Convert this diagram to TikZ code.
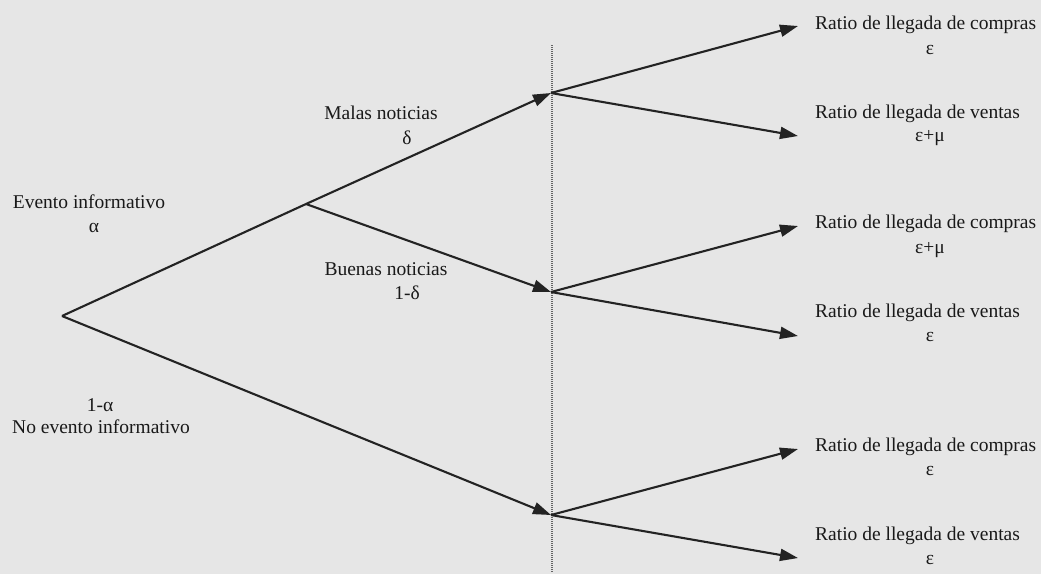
\documentclass[tikz,border=0pt]{standalone}
\usepackage{fontspec}
\setmainfont{Liberation Serif}
\usetikzlibrary{arrows.meta}
\definecolor{bg}{RGB}{230,230,230}
\definecolor{ink}{RGB}{35,35,35}
\definecolor{txt}{RGB}{25,25,25}
\definecolor{dotc}{RGB}{100,100,100}
\begin{document}
\begin{tikzpicture}[x=1pt,y=-1pt,
  branch/.style={draw=ink,line width=2.1pt},
  arr/.style={branch,-{Triangle[length=18pt,width=12pt]}},
  lbl/.style={text=txt,inner sep=0pt,font=\fontsize{19.5}{22}\selectfont},
  ratio/.style={lbl,anchor=west}]
\fill[bg] (0,0) rectangle (1041,574);
\useasboundingbox (0,0) rectangle (1041,574);
% dotted time line
\coordinate (dtop) at (552,45);
\coordinate (dbot) at (552,573);
\draw[dotc,line width=1.5pt,dash pattern=on 1pt off 1pt] (dtop) -- (dbot);
% tree points
\coordinate (O) at (62,316);
\coordinate (B) at (306,204);
\coordinate (M) at (551,93);
\coordinate (G) at (551,292);
\coordinate (N) at (551,515);
\coordinate (M1) at (798,26);
\coordinate (M2) at (798,136);
\coordinate (G1) at (798,226);
\coordinate (G2) at (798,336);
\coordinate (N1) at (798,449);
\coordinate (N2) at (798,558);
\draw[branch] (O) -- (B);
\draw[arr] (B) -- (M);
\draw[arr] (B) -- (G);
\draw[arr] (O) -- (N);
\draw[arr] (M) -- (M1);
\draw[arr] (M) -- (M2);
\draw[arr] (G) -- (G1);
\draw[arr] (G) -- (G2);
\draw[arr] (N) -- (N1);
\draw[arr] (N) -- (N2);
% left labels
\node[lbl] (ev) at (89,202) {Evento informativo};
\node[lbl] (alpha) at (94,228) {α};
\node[lbl] (nalpha) at (100,405) {1-α};
\node[lbl] (noev) at (101,427) {No evento informativo};
\node[lbl] (malas) at (381,113) {Malas noticias};
\node[lbl] (delta) at (407,138) {δ};
\node[lbl] (buenas) at (386,269) {Buenas noticias};
\node[lbl] (ndelta) at (407,293) {1-δ};
% right labels
\node[ratio] (r1) at (815,25) {Ratio de llegada de compras};
\node[lbl] (s1) at (930,50) {ε};
\node[ratio] (r2) at (815,114) {Ratio de llegada de ventas};
\node[lbl] (s2) at (930,138) {ε+μ};
\node[ratio] (r3) at (815,224) {Ratio de llegada de compras};
\node[lbl] (s3) at (930,250) {ε+μ};
\node[ratio] (r4) at (815,313) {Ratio de llegada de ventas};
\node[lbl] (s4) at (930,337) {ε};
\node[ratio] (r5) at (815,447) {Ratio de llegada de compras};
\node[lbl] (s5) at (930,471) {ε};
\node[ratio] (r6) at (815,536) {Ratio de llegada de ventas};
\node[lbl] (s6) at (930,560) {ε};
\end{tikzpicture}
\end{document}
